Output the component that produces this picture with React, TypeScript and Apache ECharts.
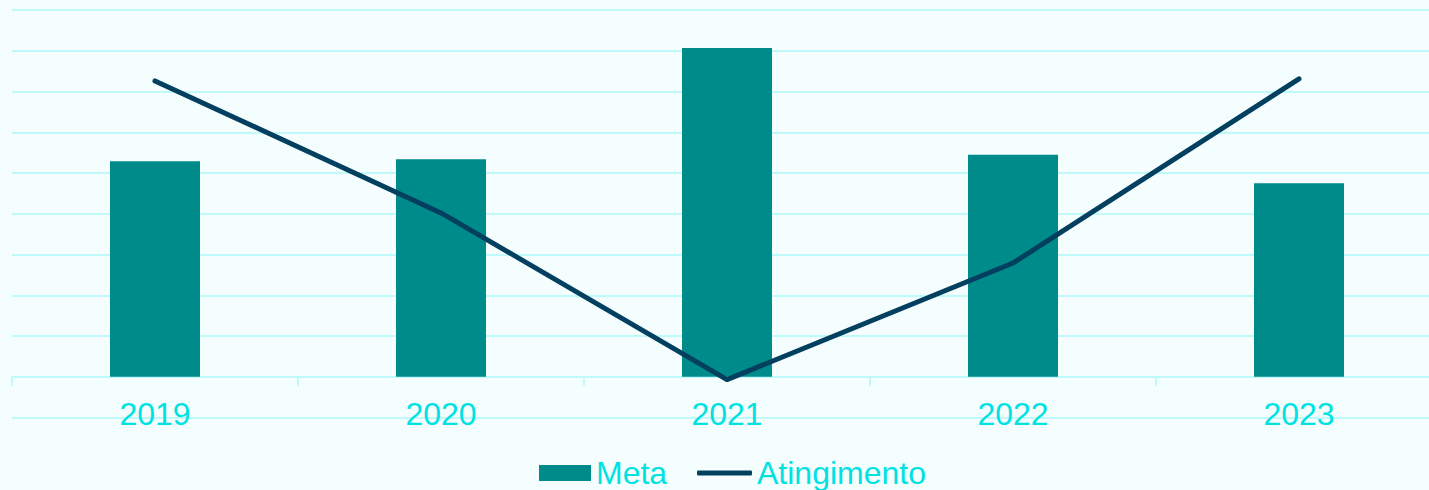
import React, { useEffect, useRef } from "react";
import * as echarts from "echarts";

const categories = ["2019", "2020", "2021", "2022", "2023"];
const metaValues = [52.9, 53.4, 80.7, 54.5, 47.5];
const atingimentoValues = [72.6, 40.2, -0.7, 27.9, 73.1];

export default function App() {
  const ref = useRef<HTMLDivElement>(null);
  useEffect(() => {
    document.body.style.margin = "0";
    const chart = echarts.init(ref.current!, undefined, { renderer: "svg" });
    const font = "Liberation Sans, Arial, sans-serif";
    chart.setOption({
      animation: false,
      backgroundColor: "#F5FEFF",
      grid: {
        left: 12,
        width: 1430,
        top: 10,
        bottom: 72.5,
        containLabel: false,
        outerBoundsMode: "none",
      },
      xAxis: {
        type: "category",
        data: categories,
        boundaryGap: true,
        axisLine: { onZero: true, lineStyle: { color: "#C0F9F9", width: 2 } },
        axisTick: { show: true, length: 9, lineStyle: { color: "#C0F9F9", width: 2 } },
        axisLabel: { color: "#00E2E2", fontSize: 32, fontFamily: font, margin: -20 },
      },
      yAxis: {
        type: "value",
        min: -10,
        max: 90,
        interval: 10,
        axisLabel: { show: false },
        axisLine: { show: false },
        axisTick: { show: false },
        splitLine: { show: true, lineStyle: { color: "#C0F9F9", width: 2 } },
      },
      legend: [
        {
          data: [{ name: "Meta", icon: "rect" }],
          left: 539,
          top: 457,
          padding: 0,
          itemWidth: 52,
          itemHeight: 16,
          textStyle: { color: "#00E2E2", fontSize: 32, fontFamily: font, lineHeight: 32 },
        },
        {
          data: [{ name: "Atingimento", icon: "roundRect" }],
          left: 697,
          top: 457,
          padding: 0,
          itemWidth: 55,
          itemHeight: 5,
          textStyle: { color: "#00E2E2", fontSize: 32, fontFamily: font, lineHeight: 32 },
        },
      ],
      series: [
        {
          name: "Meta",
          type: "bar",
          data: metaValues,
          barWidth: 90,
          itemStyle: { color: "#008B8B" },
        },
        {
          name: "Atingimento",
          type: "line",
          data: atingimentoValues,
          symbol: "none",
          itemStyle: { color: "#033F5F" },
          lineStyle: { color: "#033F5F", width: 5, cap: "round", join: "round" },
        },
      ],
    });
    return () => chart.dispose();
  }, []);
  return <div ref={ref} style={{ width: 1429, height: 490 }} />;
}
